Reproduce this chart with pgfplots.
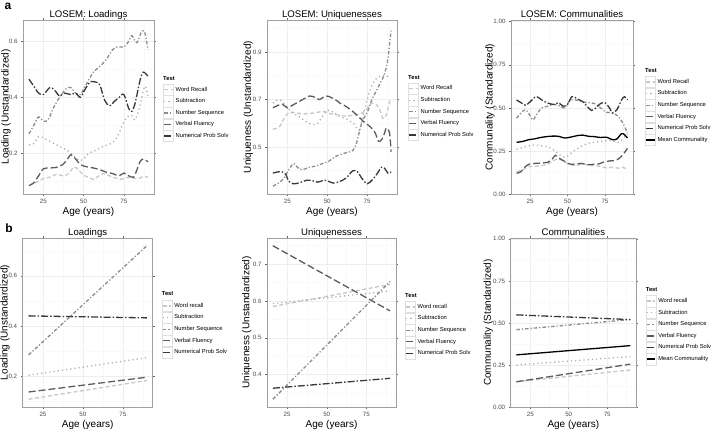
\documentclass[border=0pt]{standalone}
\usepackage{fontspec}
\setmainfont{Liberation Sans}
\usepackage{pgfplots}
\pgfplotsset{compat=1.18}
\definecolor{cWR}{HTML}{C8C8C8}
\definecolor{cSub}{HTML}{ADADAD}
\definecolor{cNS}{HTML}{8C8C8C}
\definecolor{cVF}{HTML}{5C5C5C}
\definecolor{cNPS}{HTML}{383838}
\definecolor{frame}{HTML}{A0A0A0}
\definecolor{ticktext}{HTML}{4D4D4D}
\pgfplotsset{
  sWR/.style={cWR, line width=1.3pt, dash pattern=on 4pt off 2.5pt},
  sSub/.style={cSub, line width=1.3pt, dash pattern=on 1.2pt off 3pt},
  sNS/.style={cNS, line width=1.3pt, dash pattern=on 3.5pt off 2pt on 1.2pt off 2pt},
  sVF/.style={cVF, line width=1.3pt, dash pattern=on 7pt off 3pt},
  sNPS/.style={cNPS, line width=1.3pt, dash pattern=on 7pt off 2pt on 1.5pt off 2pt},
  sMean/.style={black, line width=1.3pt, solid},
  panel/.style={
    scale only axis, anchor=north west,
    xmin=12.3, xmax=93.7,
    xtick={25,50,75}, minor xtick={12.5,37.5,62.5,87.5},
    xticklabel={\pgfmathprintnumber[assume math mode=true]{\tick}},
    grid=both,
    major grid style={color=gray!13, line width=0.5pt},
    minor grid style={color=gray!5, line width=0.5pt},
    axis line style={frame, line width=0.5pt},
    tick align=outside, major tick length=2pt, minor tick length=0pt,
    tick style={color=gray!80!black, line width=0.5pt},
    ticklabel style={font=\fontsize{6.2}{7}\selectfont, color=ticktext},
    label style={font=\fontsize{7.9}{9}\selectfont},
    every axis title/.style={font=\fontsize{9.6}{11}\selectfont, at={(0.5,1)}, anchor=base, yshift=2.4pt},
    xlabel={Age (years)},
    every axis x label/.style={at={(axis description cs:0.5,0)}, anchor=north, yshift=-10pt},
    every axis y label/.style={rotate=90, anchor=center},
    legend cell align=left,
    legend style={draw=none, fill=none, font=\fontsize{5.8}{6.5}\selectfont, anchor=north west,
      row sep=0pt, column sep=2pt, inner sep=0pt,
      nodes={inner sep=0pt, minimum height=11.2pt}},
    legend image code/.code={
      \draw[gray!25, solid, line width=0.4pt, fill=white] (0pt,-5.6pt) rectangle (10pt,5.6pt);
      \draw[#1] (0.8pt,0pt) -- (9.2pt,0pt);
    },
  },
}
\begin{document}
\begin{tikzpicture}
\useasboundingbox (0pt,0pt) rectangle (717pt,-432pt);
\fill[white] (0pt,0pt) rectangle (717pt,-432pt);

% ---------------- a1 ----------------
\begin{axis}[panel, at={(23pt,-20pt)}, width=131pt, height=174pt,
  ymin=0.055, ymax=0.676, ytick={0.2,0.4,0.6}, minor ytick={0.1,0.3,0.5},
  yticklabel={\pgfmathprintnumber[assume math mode=true,fixed,fixed zerofill,precision=1]{\tick}},
  title={LOSEM: Loadings}, ylabel={Loading (Unstandardized)},
  ylabel style={at={(axis description cs:-0.130,0.5)}},
  legend style={at={(1.069,0.634)}}]
\addplot[sWR, smooth] coordinates {(16,0.085)(20,0.095)(25,0.11)(29,0.115)(33,0.125)(38,0.12)(41,0.13)(44,0.152)(47,0.14)(50,0.122)(53,0.115)(56,0.107)(59,0.118)(62,0.128)(66,0.12)(71,0.11)(74,0.108)(77,0.114)(81,0.112)(84,0.11)(87,0.117)(90,0.115)};
\addplot[sSub, smooth] coordinates {(16,0.23)(19,0.235)(22,0.26)(25,0.255)(30,0.24)(35,0.225)(40,0.21)(44,0.19)(47,0.175)(50,0.18)(53,0.2)(57,0.21)(62,0.225)(67,0.235)(71,0.26)(74,0.3)(77,0.33)(80,0.335)(82,0.32)(85,0.37)(88,0.44)(90,0.40)};
\addplot[sNS, smooth] coordinates {(16,0.27)(19,0.30)(22,0.33)(25,0.315)(28,0.32)(31,0.36)(35,0.40)(39,0.43)(42,0.435)(45,0.415)(48,0.41)(50,0.43)(53,0.46)(56,0.49)(60,0.51)(64,0.535)(68,0.57)(71,0.58)(75,0.58)(78,0.60)(80,0.62)(83,0.595)(86,0.635)(88,0.63)(90,0.57)};
\addplot[sVF, smooth] coordinates {(16,0.085)(19,0.095)(22,0.12)(25,0.145)(29,0.148)(33,0.15)(37,0.16)(40,0.18)(42,0.195)(45,0.18)(48,0.16)(52,0.152)(56,0.148)(60,0.142)(64,0.133)(68,0.128)(72,0.12)(75,0.13)(78,0.12)(81,0.115)(83,0.14)(85,0.17)(87,0.18)(90,0.17)};
\addplot[sNPS, smooth] coordinates {(16,0.465)(19,0.44)(22,0.415)(25,0.41)(29,0.435)(32,0.425)(35,0.405)(38,0.415)(42,0.41)(45,0.415)(48,0.40)(51,0.43)(54,0.455)(57,0.455)(60,0.445)(63,0.39)(66,0.37)(69,0.385)(72,0.40)(75,0.41)(78,0.36)(80,0.35)(82,0.38)(85,0.46)(87,0.49)(90,0.475)};
\legend{Word Recall,Subtraction,Number Sequence,Verbal Fluency,Numerical Prob Solv}
\end{axis}

% ---------------- a2 ----------------
\begin{axis}[panel, at={(267pt,-20pt)}, width=130pt, height=174pt,
  ymin=0.302, ymax=1.035, ytick={0.5,0.7,0.9}, minor ytick={0.4,0.6,0.8,1.0},
  yticklabel={\pgfmathprintnumber[assume math mode=true,fixed,fixed zerofill,precision=1]{\tick}},
  title={LOSEM: Uniquenesses}, ylabel={Uniqueness (Unstandardized)},
  ylabel style={at={(axis description cs:-0.144,0.5)}},
  legend style={at={(1.085,0.64)}}]
\addplot[sWR, smooth] coordinates {(16,0.575)(20,0.585)(23,0.62)(26,0.645)(30,0.645)(34,0.64)(38,0.64)(43,0.645)(48,0.65)(52,0.64)(57,0.635)(62,0.63)(67,0.635)(71,0.64)(74,0.655)(77,0.68)(80,0.685)(83,0.655)(85,0.62)(87,0.635)(89,0.69)(90,0.70)};
\addplot[sSub, smooth] coordinates {(16,0.685)(20,0.70)(24,0.675)(28,0.645)(32,0.63)(36,0.61)(40,0.595)(44,0.6)(48,0.64)(51,0.655)(55,0.64)(59,0.625)(63,0.615)(67,0.595)(70,0.57)(72,0.62)(75,0.70)(78,0.76)(81,0.79)(84,0.80)(87,0.80)(90,0.79)};
\addplot[sNS, smooth] coordinates {(16,0.335)(20,0.35)(23,0.37)(26,0.405)(29,0.43)(32,0.41)(35,0.405)(39,0.415)(43,0.42)(47,0.43)(51,0.44)(55,0.46)(59,0.47)(63,0.478)(66,0.485)(68,0.51)(70,0.56)(72,0.61)(75,0.645)(78,0.70)(81,0.74)(84,0.78)(86,0.81)(88,0.87)(89,0.93)(90,0.99)};
\addplot[sVF, smooth] coordinates {(16,0.665)(19,0.675)(22,0.68)(25,0.665)(28,0.675)(32,0.69)(36,0.705)(39,0.715)(42,0.71)(45,0.70)(49,0.715)(52,0.71)(55,0.70)(58,0.685)(62,0.67)(66,0.65)(70,0.625)(74,0.60)(77,0.585)(80,0.56)(82,0.525)(84,0.53)(86,0.56)(87,0.58)(89,0.56)(90,0.48)};
\addplot[sNPS, smooth] coordinates {(16,0.39)(19,0.395)(22,0.395)(24,0.385)(26,0.355)(29,0.345)(33,0.35)(37,0.36)(40,0.36)(44,0.352)(48,0.36)(51,0.355)(54,0.348)(58,0.355)(62,0.37)(66,0.40)(69,0.395)(72,0.365)(75,0.345)(78,0.36)(81,0.385)(84,0.415)(86,0.41)(88,0.39)(90,0.395)};
\legend{Word Recall,Subtraction,Number Sequence,Verbal Fluency,Numerical Prob Solv}
\end{axis}

% ---------------- a3 ----------------
\begin{axis}[panel, at={(511pt,-20pt)}, width=122pt, height=174pt,
  ymin=0, ymax=1.01, ytick={0,0.25,0.5,0.75,1}, minor ytick={0.125,0.375,0.625,0.875},
  yticklabel={\pgfmathprintnumber[assume math mode=true,fixed,fixed zerofill,precision=2]{\tick}},
  title={LOSEM: Communalities}, ylabel={Communality (Standardized)},
  ylabel style={at={(axis description cs:-0.172,0.5)}},
  legend style={at={(1.098,0.678)}}]
\addplot[sWR, smooth] coordinates {(16,0.13)(20,0.14)(24,0.16)(28,0.16)(32,0.165)(36,0.17)(40,0.19)(44,0.205)(48,0.185)(52,0.17)(56,0.165)(60,0.175)(64,0.168)(68,0.165)(72,0.16)(76,0.152)(80,0.155)(84,0.15)(87,0.155)(90,0.14)};
\addplot[sSub, smooth] coordinates {(16,0.26)(20,0.27)(24,0.28)(28,0.285)(32,0.28)(36,0.275)(40,0.26)(43,0.24)(46,0.22)(49,0.215)(52,0.235)(56,0.26)(60,0.28)(64,0.295)(68,0.30)(72,0.305)(76,0.31)(80,0.31)(84,0.30)(87,0.32)(90,0.35)};
\addplot[sNS, smooth] coordinates {(16,0.44)(19,0.47)(22,0.49)(25,0.455)(27,0.43)(30,0.47)(33,0.50)(37,0.51)(41,0.52)(45,0.51)(48,0.50)(52,0.545)(56,0.545)(60,0.535)(64,0.53)(68,0.525)(72,0.50)(76,0.475)(80,0.47)(84,0.45)(87,0.41)(90,0.355)};
\addplot[sVF, smooth] coordinates {(16,0.12)(19,0.13)(22,0.16)(25,0.175)(29,0.178)(33,0.18)(37,0.185)(40,0.205)(42,0.225)(45,0.205)(48,0.19)(51,0.175)(55,0.172)(59,0.178)(63,0.17)(67,0.172)(71,0.175)(74,0.185)(78,0.192)(82,0.195)(85,0.21)(88,0.24)(90,0.265)};
\addplot[sNPS, smooth] coordinates {(16,0.546)(19,0.53)(22,0.515)(25,0.535)(29,0.565)(33,0.545)(37,0.527)(41,0.52)(44,0.53)(47,0.51)(50,0.52)(53,0.565)(57,0.55)(60,0.537)(63,0.51)(66,0.485)(69,0.50)(72,0.525)(75,0.53)(78,0.50)(80,0.47)(83,0.49)(86,0.545)(88,0.565)(90,0.546)};
\addplot[sMean, smooth] coordinates {(16,0.30)(20,0.305)(24,0.315)(28,0.32)(32,0.328)(36,0.333)(40,0.336)(44,0.335)(48,0.325)(52,0.33)(56,0.338)(60,0.342)(64,0.335)(68,0.333)(72,0.328)(76,0.33)(80,0.315)(83,0.32)(86,0.35)(88,0.345)(90,0.325)};
\legend{Word Recall,Subtraction,Number Sequence,Verbal Fluency,Numerical Prob Solv,Mean Communality}
\end{axis}

% ---------------- b1 ----------------
\begin{axis}[panel, at={(22.7pt,-238pt)}, width=130pt, height=169pt,
  ymin=0.076, ymax=0.751, ytick={0.2,0.4,0.6}, minor ytick={0.1,0.3,0.5,0.7},
  yticklabel={\pgfmathprintnumber[assume math mode=true,fixed,fixed zerofill,precision=1]{\tick}},
  title={Loadings}, ylabel={Loading (Unstandardized)},
  ylabel style={at={(axis description cs:-0.136,0.5)}},
  legend style={at={(1.069,0.633)}}]
\addplot[sWR] coordinates {(16,0.107)(90,0.182)};
\addplot[sSub] coordinates {(16,0.203)(90,0.273)};
\addplot[sNS] coordinates {(16,0.284)(90,0.72)};
\addplot[sVF] coordinates {(16,0.136)(90,0.195)};
\addplot[sNPS] coordinates {(16,0.44)(90,0.432)};
\legend{Word recall,Subtraction,Number Sequence,Verbal Fluency,Numerical Prob Solv}
\end{axis}

% ---------------- b2 ----------------
\begin{axis}[panel, at={(267pt,-238pt)}, width=129pt, height=169pt,
  ymin=0.312, ymax=0.771, ytick={0.4,0.5,0.6,0.7}, minor ytick={0.35,0.45,0.55,0.65,0.75},
  yticklabel={\pgfmathprintnumber[assume math mode=true,fixed,fixed zerofill,precision=1]{\tick}},
  title={Uniquenesses}, ylabel={Uniqueness (Unstandardized)},
  ylabel style={at={(axis description cs:-0.157,0.5)}},
  legend style={at={(1.07,0.627)}}]
\addplot[sWR] coordinates {(16,0.585)(90,0.645)};
\addplot[sSub] coordinates {(16,0.593)(90,0.627)};
\addplot[sNS] coordinates {(16,0.333)(90,0.653)};
\addplot[sVF] coordinates {(16,0.75)(90,0.573)};
\addplot[sNPS] coordinates {(16,0.363)(90,0.39)};
\legend{Word recall,Subtraction,Number Sequence,Verbal Fluency,Numerical Prob Solv}
\end{axis}

% ---------------- b3 ----------------
\begin{axis}[panel, at={(510.7pt,-238pt)}, width=125.3pt, height=169pt,
  ymin=0, ymax=1.005, ytick={0,0.25,0.5,0.75,1}, minor ytick={0.125,0.375,0.625,0.875},
  yticklabel={\pgfmathprintnumber[assume math mode=true,fixed,fixed zerofill,precision=2]{\tick}},
  title={Communalities}, ylabel={Communality (Standardized)},
  ylabel style={at={(axis description cs:-0.179,0.5)}},
  legend style={at={(1.077,0.662)}}]
\addplot[sWR] coordinates {(16,0.15)(90,0.22)};
\addplot[sSub] coordinates {(16,0.25)(90,0.30)};
\addplot[sNS] coordinates {(16,0.46)(90,0.52)};
\addplot[sVF] coordinates {(16,0.15)(90,0.255)};
\addplot[sNPS] coordinates {(16,0.548)(90,0.52)};
\addplot[sMean] coordinates {(16,0.31)(90,0.365)};
\legend{Word recall,Subtraction,Number Sequence,Verbal Fluency,Numerical Prob Solv,Mean Communality}
\end{axis}

% legend titles and panel letters
\begin{scope}[every node/.style={font=\bfseries\fontsize{5.8}{6.5}\selectfont, anchor=west, inner sep=0pt}]
\node at (163pt,-78.3pt) {Test};
\node at (408pt,-78pt) {Test};
\node at (645pt,-71pt) {Test};
\node at (161.7pt,-294pt) {Test};
\node at (405pt,-295.7pt) {Test};
\node at (645.7pt,-290pt) {Test};
\end{scope}
\node[font=\bfseries\fontsize{12}{13}\selectfont, inner sep=0pt] at (8pt,-6pt) {a};
\node[font=\bfseries\fontsize{12}{13}\selectfont, inner sep=0pt] at (9pt,-228pt) {b};
\end{tikzpicture}
\end{document}
